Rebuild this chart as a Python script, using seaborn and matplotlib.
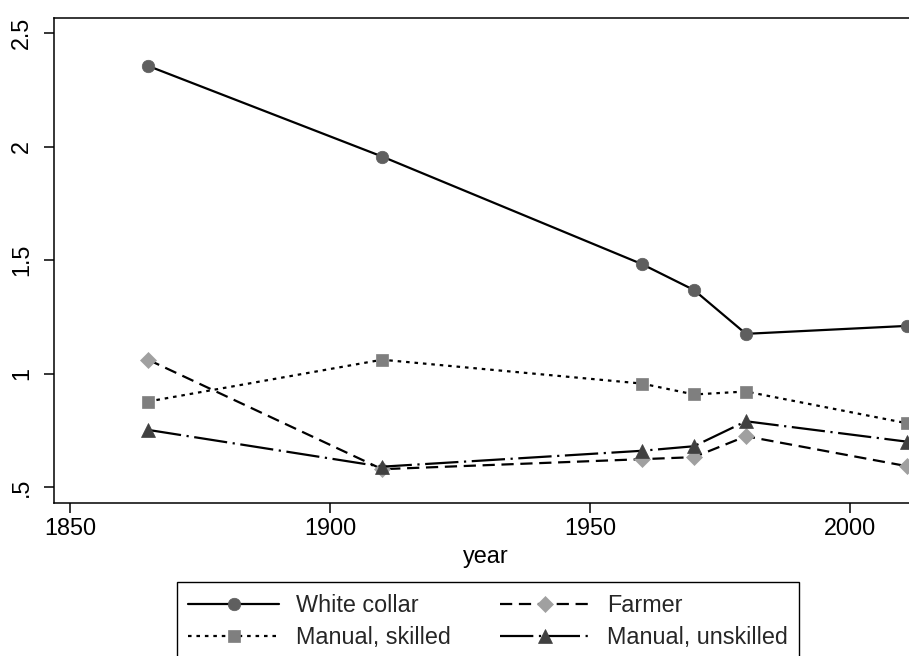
import pandas as pd
import matplotlib
matplotlib.use("Agg")
import matplotlib.pyplot as plt
import seaborn as sns

# data
years = [1865, 1910, 1960, 1970, 1980, 2011]
white_collar = [2.355, 1.956, 1.482, 1.368, 1.175, 1.21]
farmer = [1.061, 0.579, 0.623, 0.632, 0.724, 0.592]
manual_skilled = [0.877, 1.061, 0.956, 0.908, 0.921, 0.781]
manual_unskilled = [0.752, 0.59, 0.66, 0.68, 0.79, 0.70]

groups = ["White collar", "Farmer", "Manual, skilled", "Manual, unskilled"]
values = [white_collar, farmer, manual_skilled, manual_unskilled]

xticks = [1850, 1900, 1950, 2000]
yticks = [0.5, 1, 1.5, 2, 2.5]
ytick_labels = [".5", "1", "1.5", "2", "2.5"]

df = pd.concat([pd.DataFrame({"year": years, "value": v, "group": g})
                for g, v in zip(groups, values)], ignore_index=True)

# style per series
markers = {"White collar": "o", "Farmer": "D",
           "Manual, skilled": "s", "Manual, unskilled": "^"}
fills = {"White collar": "#5f5f5f", "Farmer": "#a0a0a0",
         "Manual, skilled": "#7f7f7f", "Manual, unskilled": "#404040"}
sizes = {"White collar": 9, "Farmer": 8, "Manual, skilled": 9, "Manual, unskilled": 10}
styles = {"White collar": "-", "Farmer": (0, (5.5, 3)),
          "Manual, skilled": (0, (1.6, 2.2)), "Manual, unskilled": (0, (15, 2.5, 1, 2.5))}

sns.set_theme(style="white")
plt.rcParams["font.family"] = ["Liberation Sans", "DejaVu Sans"]
plt.rcParams["font.size"] = 16.8

fig = plt.figure(figsize=(9.09, 6.56), dpi=100)
ax = fig.add_axes([54 / 909, 153 / 656, 863 / 909, 485 / 656])

for g in groups:
    sub = df[df["group"] == g]
    sns.lineplot(data=sub, x="year", y="value", ax=ax, color="black",
                 linewidth=1.6, linestyle=styles[g], marker=markers[g],
                 markersize=sizes[g], markerfacecolor=fills[g],
                 markeredgecolor=fills[g], markeredgewidth=0.5, label=g)

ax.set_xlim(1846.9, 2012.9)
ax.set_ylim(0.43, 2.566)
ax.set_xticks(xticks)
ax.set_yticks(yticks)
ax.set_yticklabels(ytick_labels, rotation=90, va="center", ha="right")
ax.tick_params(axis="both", which="major", length=7, width=1.1, color="black",
               labelsize=16.8, labelcolor="black", direction="out")
ax.tick_params(axis="y", pad=8, left=True)
ax.tick_params(axis="x", pad=3, bottom=True)
for s in ax.spines.values():
    s.set_color("black")
    s.set_linewidth(1.1)
ax.set_xlabel("year", fontsize=16.8, color="black", labelpad=4)
ax.set_ylabel("")

handles, labels = ax.get_legend_handles_labels()
ax.get_legend().remove()
# two columns filled column-wise: rows read White collar/Farmer, skilled/unskilled
order = [0, 2, 1, 3]
fig.legend([handles[i] for i in order], [labels[i] for i in order], ncol=2,
           loc="upper center", bbox_to_anchor=(488 / 909, 1 - 582 / 656),
           borderaxespad=0, fontsize=16.8, frameon=True, fancybox=False,
           edgecolor="black", framealpha=1, handlelength=3.9,
           handletextpad=0.7, columnspacing=2.1, labelspacing=0.42,
           borderpad=0.5)
fig.legends[0].get_frame().set_linewidth(1.0)

fig.savefig("out.png", dpi=100)
